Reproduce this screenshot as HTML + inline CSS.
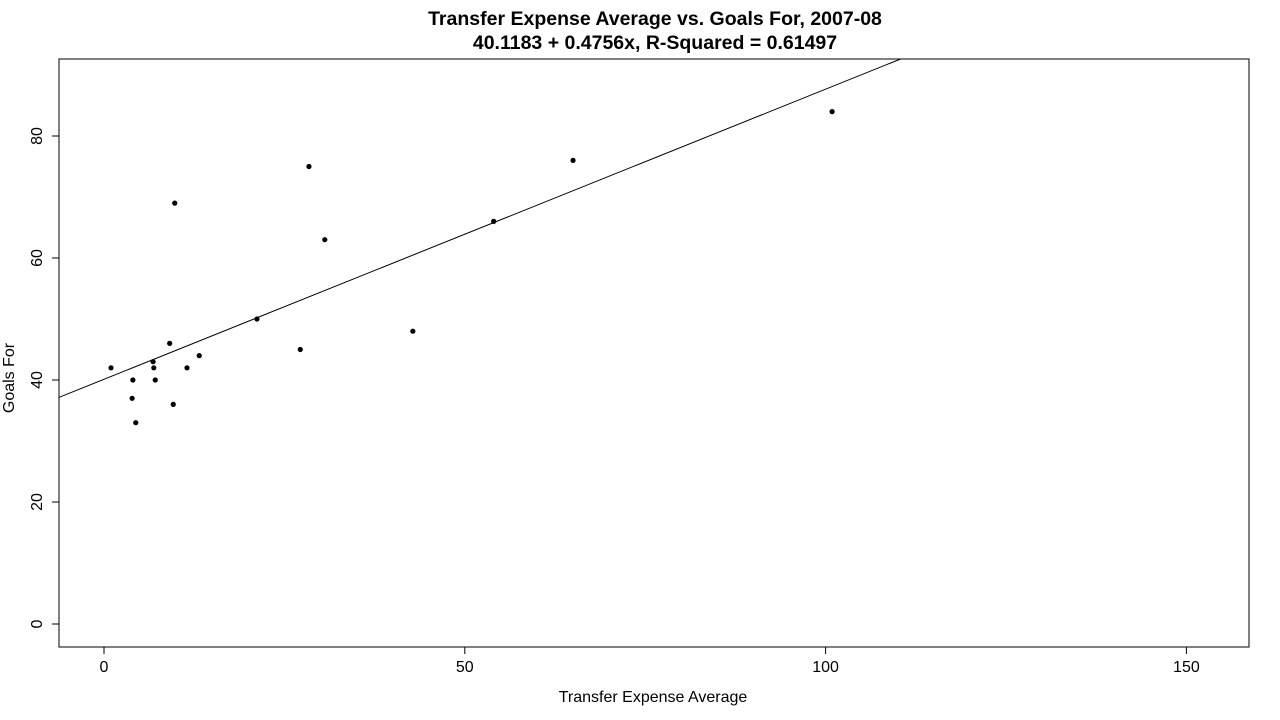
<!DOCTYPE html>
<html><head><meta charset="utf-8"><style>
html,body{margin:0;padding:0;background:#fff;}
svg{display:block;font-family:"Liberation Sans",Arial,sans-serif;}
</style></head><body>
<svg id="chart" width="1280" height="720" viewBox="0 0 1280 720">
<defs><clipPath id="plotclip"><rect x="59" y="59" width="1190" height="588"/></clipPath></defs>
<text x="655" y="25" text-anchor="middle" font-size="19.5" font-weight="bold">Transfer Expense Average vs. Goals For, 2007-08</text>
<text x="655" y="49" text-anchor="middle" font-size="19.5" font-weight="bold">40.1183 + 0.4756x, R-Squared = 0.61497</text>
<rect x="59" y="59" width="1190" height="588" fill="none" stroke="#000" stroke-width="1"/>
<g id="xaxis"></g>
<g id="yaxis"></g>
<text x="653" y="702" text-anchor="middle" font-size="16">Transfer Expense Average</text>
<text x="0" y="0" transform="translate(14,378) rotate(-90)" text-anchor="middle" font-size="16">Goals For</text>
<g id="marks" clip-path="url(#plotclip)"></g>
</svg>
<script>
const xValues = [0.97,4.0,3.9,4.4,6.8,6.9,7.1,9.1,9.6,9.8,11.5,13.2,21.2,27.2,28.4,30.6,42.8,54.0,65.0,100.9];
const yValues = [42,40,37,33,43,42,40,46,36,69,42,44,50,45,75,63,48,66,76,84];
const xTicks = [0,50,100,150];
const yTicks = [0,20,40,60,80];
const intercept = 40.1183;
const slope = 0.4756;

const NS = "http://www.w3.org/2000/svg";
function sx(v){return 104 + v*7.216;}
function sy(v){return 624 - v*6.1;}
function mk(tag, attrs, parent){const e=document.createElementNS(NS,tag);for(const k in attrs)e.setAttribute(k,attrs[k]);parent.appendChild(e);return e;}

const xa=document.getElementById('xaxis'), ya=document.getElementById('yaxis'), marks=document.getElementById('marks');
mk('line',{x1:sx(xTicks[0]),x2:sx(xTicks[xTicks.length-1]),y1:647,y2:647,stroke:'#000'},xa);
xTicks.forEach(t=>{
  const l=mk('line',{x1:sx(t),x2:sx(t),y1:647,y2:654,stroke:'#000'},xa);
  
  
  const tx=mk('text',{x:sx(t),y:672,'text-anchor':'middle','font-size':16},xa);
  tx.textContent=t;
  
  
});
yTicks.forEach(t=>{
  const l=mk('line',{x1:52,x2:59,y1:sy(t),y2:sy(t),stroke:'#000'},ya);
  
  
  const tx=mk('text',{x:0,y:0,transform:`translate(42,${sy(t)}) rotate(-90)`,'text-anchor':'middle','font-size':16},ya);
  tx.textContent=t;
  
  
});
const x0=-10, x1=200;
const rl=mk('line',{x1:sx(x0),y1:sy(intercept+slope*x0),x2:sx(x1),y2:sy(intercept+slope*x1),stroke:'#000','stroke-width':1},marks);


xValues.forEach((v,i)=>{
  const c=mk('circle',{cx:sx(v),cy:sy(yValues[i]),r:2.6,fill:'#000'},marks);
  
  
});
</script>
</body></html>
